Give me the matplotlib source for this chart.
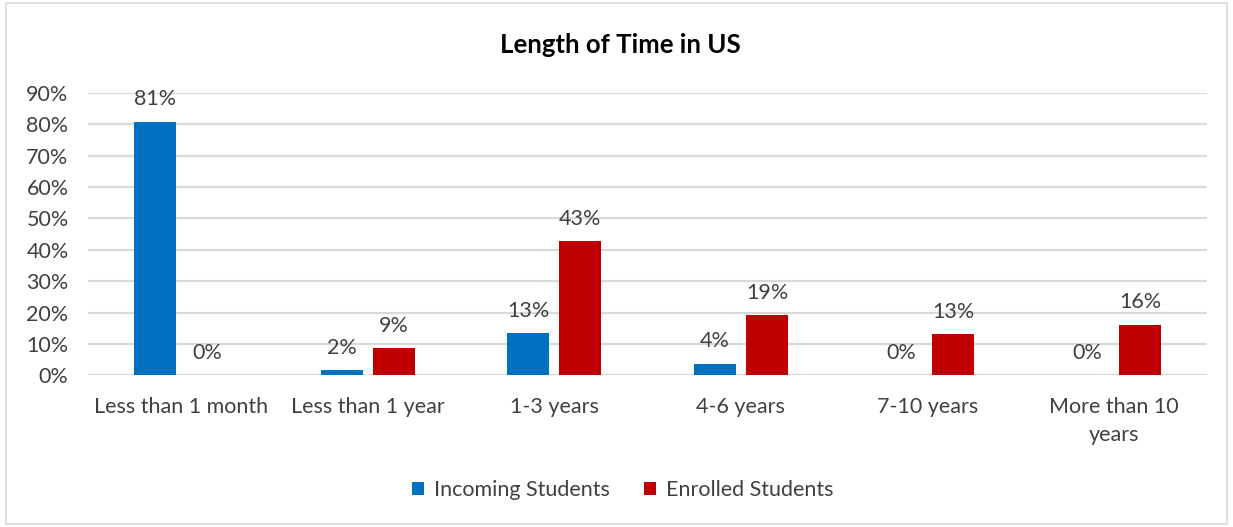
import matplotlib
matplotlib.use("Agg")
import matplotlib.pyplot as plt
import numpy as np
from matplotlib.patches import Rectangle

categories = ["Less than 1 month", "Less than 1 year", "1-3 years", "4-6 years", "7-10 years", "More than 10\nyears"]
incoming = [80.8, 1.6, 13.4, 3.6, 0.0, 0.0]
enrolled = [0.0, 8.6, 42.8, 19.2, 13.0, 16.1]
series_names = ["Incoming Students", "Enrolled Students"]
colors = ["#0070C0", "#C00000"]
yticks = [0, 10, 20, 30, 40, 50, 60, 70, 80, 90]

plt.rcParams['font.family'] = ['Lato', 'DejaVu Sans']

fig = plt.figure(figsize=(12.33, 5.27), dpi=100)
ax = fig.add_axes([0.0714, 0.288, 0.9076, 0.5355])

x = np.arange(len(categories))
w = 0.225
off = 0.14
b1 = ax.bar(x - off, incoming, w, color=colors[0], label=series_names[0], zorder=3)
b2 = ax.bar(x + off, enrolled, w, color=colors[1], label=series_names[1], zorder=3)

for bars, vals in ((b1, incoming), (b2, enrolled)):
    for r, v in zip(bars, vals):
        ax.annotate(f"{v:.0f}%", (r.get_x() + r.get_width() / 2, v),
                    xytext=(0, 9), textcoords="offset points",
                    ha="center", va="bottom", fontsize=15.5, color="#404040")

ax.set_xlim(-0.5, len(categories) - 0.5)
ax.set_ylim(0, 90)
ax.set_yticks(yticks)
ax.set_yticklabels([f"{t}%" for t in yticks], fontsize=15.5, color="#404040")
ax.set_xticks(x)
ax.set_xticklabels(categories, fontsize=15.5, color="#404040", linespacing=1.5)
ax.tick_params(axis="x", length=0, pad=16)
ax.tick_params(axis="y", length=0, pad=14)
ax.grid(axis="y", color="#d9d9d9", linewidth=1.6, zorder=0)
for s in ax.spines.values():
    s.set_visible(False)

fig.text(0.503, 0.915, "Length of Time in US", ha="center", va="center",
         fontsize=18.5, fontweight="bold", color="#000000")

fig.legend(loc="center", bbox_to_anchor=(0.505, 0.07), ncol=2, frameon=False,
           fontsize=15.5, handlelength=0.55, handleheight=0.55, columnspacing=1.6,
           handletextpad=0.45, labelcolor="#404040")

fig.patches.append(Rectangle((0.005, 0.006), 0.99, 0.988, transform=fig.transFigure,
                             fill=False, edgecolor="#d9d9d9", linewidth=1.2))

fig.savefig("out.png", dpi=100, facecolor="white")
